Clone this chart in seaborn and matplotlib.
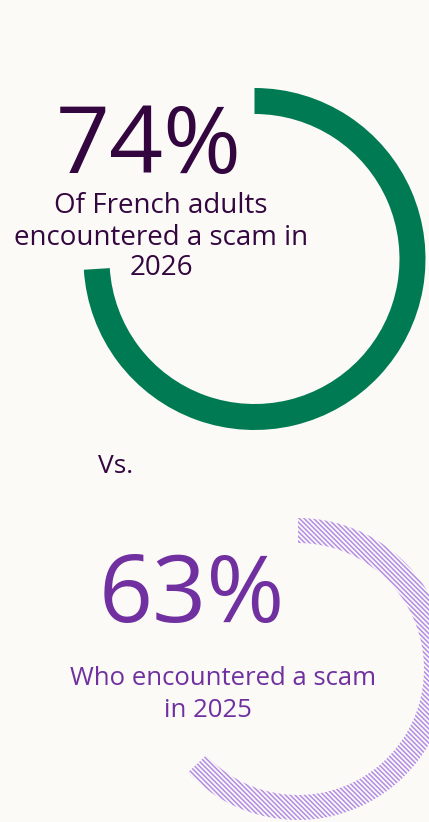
import matplotlib
matplotlib.use("Agg")
import matplotlib.pyplot as plt
import seaborn as sns

# Survey figures
share_2026 = [74, 26]
share_2025 = [63, 37]
headline_2026 = "74%"
caption_2026 = ["Of French adults", "encountered a scam in", "2026"]
versus_label = "Vs."
headline_2025 = "63%"
caption_2025 = ["Who encountered a scam", "in 2025"]

W, H = 429, 822
BG = "#FBFAF6"
GREEN = "#007A53"
DARK = "#33063F"
PURPLE = "#7030A0"
HATCH = "#B48CE6"

sns.set_theme(style="white")
plt.rcParams["font.family"] = ["Open Sans", "DejaVu Sans"]
plt.rcParams["hatch.linewidth"] = 1.1

fig = plt.figure(figsize=(W / 100, H / 100), dpi=100, facecolor=BG)
ax = fig.add_axes([0, 0, 1, 1])
ax.set_facecolor(BG)

# 2026 ring: solid green arc, clockwise from twelve o'clock
wedges, _ = ax.pie(
    share_2026, radius=171, center=(254.5, H - 259), startangle=90,
    counterclock=False, colors=[GREEN, "none"],
    wedgeprops=dict(width=26, linewidth=0),
)

# 2025 ring: hatched light purple arc
wedges2, _ = ax.pie(
    share_2025, radius=151, center=(298, H - 669), startangle=90,
    counterclock=False, colors=["none", "none"],
    wedgeprops=dict(width=25, linewidth=0),
)
wedges2[0].set_edgecolor(HATCH)
wedges2[0].set_linewidth(0)
wedges2[0].set_hatch("\\" * 7)
wedges2[1].set_visible(False)
wedges[1].set_visible(False)

ax.set_xlim(0, W)
ax.set_ylim(0, H)
ax.set_aspect("equal")
ax.axis("off")

def put(x, y, s, size, color, ha="center"):
    ax.text(x, H - y, s, fontsize=size, color=color, ha=ha, va="baseline")

put(148.5, 173, headline_2026, 68, DARK)
for line, yb in zip(caption_2026, [213, 245, 275]):
    put(161, yb, line, 20, DARK)

put(98, 473, versus_label, 19, DARK, ha="left")

put(191.5, 622, headline_2025, 68, PURPLE)
put(223.5, 685, caption_2025[0], 18.5, PURPLE)
put(207.5, 717, caption_2025[1], 18.5, PURPLE)

fig.savefig("out.png", dpi=100, facecolor=BG)
